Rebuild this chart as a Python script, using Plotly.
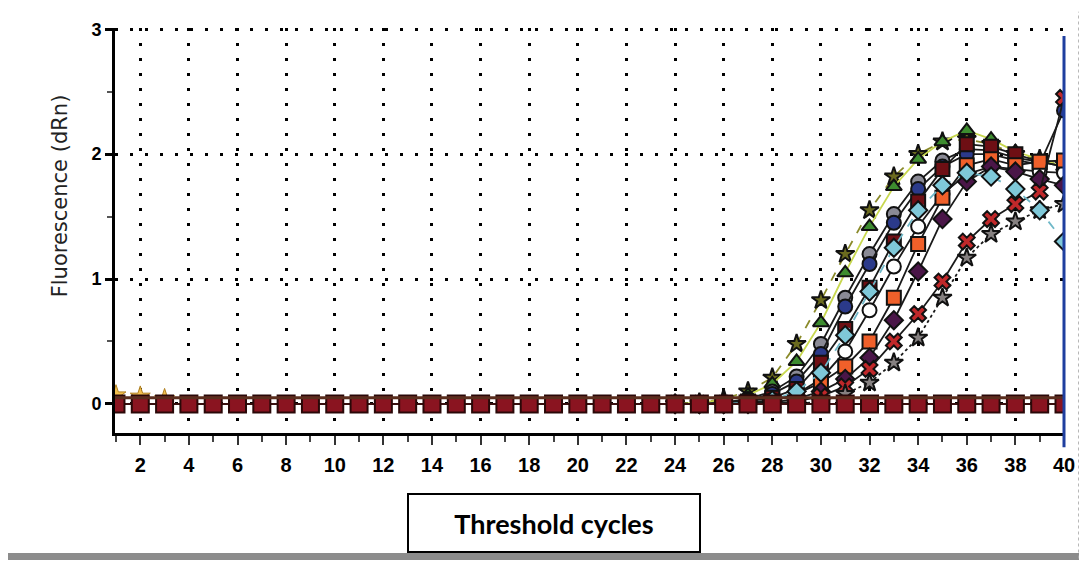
import plotly.graph_objects as go

# ---------------- data ----------------
cycles = list(range(1, 41))
baseline = [0.0, 0.0, 0.0, 0.0, 0.0, 0.0, 0.0, 0.0, 0.0, 0.0,
            0.0, 0.0, 0.0, 0.0, 0.0, 0.0, 0.0, 0.0, 0.0, 0.0,
            0.0, 0.0, 0.0, 0.0, 0.0, 0.0, 0.0, 0.0, 0.0, 0.0,
            0.0, 0.0, 0.0, 0.0, 0.0, 0.0, 0.0, 0.0, 0.0, 0.0]
early_cycles = [1, 2, 3]
early_values = [0.07, 0.06, 0.04]

tail_cycles = list(range(24, 41))
olive_star = [0.00, 0.01, 0.04, 0.10, 0.21, 0.48, 0.83, 1.20, 1.55, 1.82, 2.00, 2.10, 2.12, 2.08, 2.00, 1.96, 1.92]
green_tri = [0.00, 0.01, 0.03, 0.07, 0.16, 0.34, 0.65, 1.05, 1.42, 1.74, 1.96, 2.10, 2.19, 2.12, 2.02, 1.96, 1.90]
gray_circ = [0.00, 0.00, 0.01, 0.04, 0.10, 0.22, 0.48, 0.85, 1.20, 1.52, 1.78, 1.95, 2.04, 2.03, 1.97, 1.94, 1.90]
navy_circ = [0.00, 0.00, 0.01, 0.03, 0.08, 0.18, 0.40, 0.78, 1.12, 1.45, 1.72, 1.90, 2.00, 2.00, 1.95, 1.92, 2.35]
darkred_sq = [0.00, 0.00, 0.00, 0.02, 0.05, 0.12, 0.33, 0.60, 0.93, 1.30, 1.62, 1.88, 2.08, 2.06, 2.00, 1.94, 1.90]
open_circ = [0.00, 0.00, 0.00, 0.01, 0.03, 0.08, 0.20, 0.42, 0.75, 1.10, 1.42, 1.68, 1.84, 1.90, 1.88, 1.86, 1.85]
orange_sq = [0.00, 0.00, 0.00, 0.00, 0.02, 0.08, 0.17, 0.30, 0.50, 0.85, 1.28, 1.65, 1.91, 1.96, 1.91, 1.94, 1.95]
purple_dia = [0.00, 0.00, 0.00, 0.00, 0.01, 0.04, 0.10, 0.20, 0.37, 0.67, 1.06, 1.48, 1.78, 1.90, 1.86, 1.80, 1.75]
red_x = [0.00, 0.00, 0.00, 0.00, 0.00, 0.02, 0.06, 0.14, 0.28, 0.50, 0.72, 0.98, 1.30, 1.48, 1.60, 1.70, 2.45]
gray_star = [0.00, 0.00, 0.00, 0.00, 0.00, 0.00, 0.02, 0.08, 0.17, 0.33, 0.53, 0.85, 1.17, 1.36, 1.46, 1.55, 1.60]
cyan_dia = [0.00, 0.00, 0.00, 0.01, 0.03, 0.10, 0.25, 0.55, 0.90, 1.25, 1.55, 1.75, 1.85, 1.82, 1.72, 1.55, 1.30]

threshold = 0.05
x_tick_vals = list(range(2, 41, 2))
y_tick_vals = [0, 1, 2, 3]

# ---------------- figure ----------------
fig = go.Figure()

curves = [
    (olive_star, "star", "#6b6b1f", "#8a8a2a", "dash"),
    (green_tri, "triangle-up", "#3d8c2f", "#c8d850", "solid"),
    (gray_circ, "circle", "#8a8a95", "#1a1a1a", "solid"),
    (navy_circ, "circle", "#2b3a8a", "#1a1a1a", "solid"),
    (darkred_sq, "square", "#6e0f14", "#1a1a1a", "solid"),
    (open_circ, "circle", "#ffffff", "#1a1a1a", "solid"),
    (orange_sq, "square", "#f0602a", "#1a1a1a", "solid"),
    (purple_dia, "diamond", "#4a1648", "#1a1a1a", "solid"),
    (red_x, "x", "#c0282a", "#1a1a1a", "solid"),
    (gray_star, "star", "#858080", "#1a1a1a", "dot"),
    (cyan_dia, "diamond", "#7fc8d8", "#6fb8c8", "dash"),
]
for vals, sym, mcol, lcol, dash in curves:
    fig.add_trace(go.Scatter(
        x=tail_cycles, y=vals, mode="lines+markers",
        line=dict(color=lcol, width=1.8, dash=dash),
        marker=dict(symbol=sym, size=14, color=mcol,
                    line=dict(color="#111111", width=2)),
        showlegend=False, hoverinfo="skip"))

fig.add_trace(go.Scatter(
    x=early_cycles, y=early_values, mode="markers",
    marker=dict(symbol="star", size=15, color="#f2c14e",
                line=dict(color="#b08020", width=1)),
    showlegend=False, hoverinfo="skip"))

fig.add_trace(go.Scatter(
    x=cycles, y=baseline, mode="lines+markers",
    line=dict(color="#3a1010", width=2),
    marker=dict(symbol="square", size=17, color="#8a1420",
                line=dict(color="#2a0808", width=2)),
    showlegend=False, hoverinfo="skip"))

# threshold line
fig.add_shape(type="line", xref="paper", yref="y", x0=0, x1=1,
              y0=threshold, y1=threshold,
              line=dict(color="#5a2e1e", width=3))

# blue vertical line at the last cycle
fig.add_shape(type="line", xref="paper", yref="paper", x0=1.0, x1=1.0,
              y0=-0.035, y1=0.98, line=dict(color="#1f3f9f", width=3))

# scan border decorations
fig.add_shape(type="line", xref="paper", yref="paper", x0=-0.125, x1=1.03,
              y0=-0.305, y1=-0.305, line=dict(color="#8c8c8c", width=7))
fig.add_shape(type="line", xref="paper", yref="paper", x0=1.016, x1=1.016,
              y0=-0.31, y1=1.04, line=dict(color="#a8a8a8", width=2, dash="dot"))

fig.add_annotation(
    text="Threshold cycles", xref="paper", yref="paper",
    x=0.4622, y=-0.222, xanchor="center", yanchor="middle",
    showarrow=False, width=290, height=56, borderpad=0,
    bordercolor="#000000", borderwidth=2, bgcolor="#ffffff",
    font=dict(family="Lato", size=27, color="#000000", weight="bold"))

fig.add_annotation(
    text="Fluorescence (dRn)", xref="paper", yref="paper",
    x=-0.0577, y=0.585, xanchor="center", yanchor="middle",
    textangle=-90, showarrow=False,
    font=dict(family="DejaVu Sans", size=21, color="#222222"))

# the page has an 8px body margin, so the figure is sized/offset to compensate
fig.update_layout(
    width=1079, height=557,
    margin=dict(l=107, r=19, t=15, b=132),
    paper_bgcolor="#ffffff", plot_bgcolor="#ffffff",
    showlegend=False,
    xaxis=dict(
        range=[0.96, 40], tickvals=x_tick_vals,
        showgrid=True, gridcolor="#000000", gridwidth=3, griddash="3px,12px",
        showline=True, linecolor="#000000", linewidth=3,
        ticks="outside", ticklen=9, tickwidth=2, tickcolor="#333333",
        minor=dict(dtick=1, ticks="outside", ticklen=6, tickwidth=2, tickcolor="#444444"),
        ticklabelstandoff=3,
        tickfont=dict(family="Liberation Sans", size=20, color="#000000", weight="bold"),
        zeroline=False),
    yaxis=dict(
        range=[-0.233, 3.01], tickvals=y_tick_vals,
        showgrid=True, gridcolor="#000000", gridwidth=3, griddash="3px,12px",
        showline=True, linecolor="#000000", linewidth=3,
        ticks="outside", ticklen=7, tickwidth=2.5, tickcolor="#000000",
        minor=dict(dtick=0.5, ticks="outside", ticklen=5, tickwidth=2, tickcolor="#555555"),
        tickfont=dict(family="Liberation Sans", size=18, color="#000000", weight="bold"),
        zeroline=False),
)

fig.write_html("out.html")
